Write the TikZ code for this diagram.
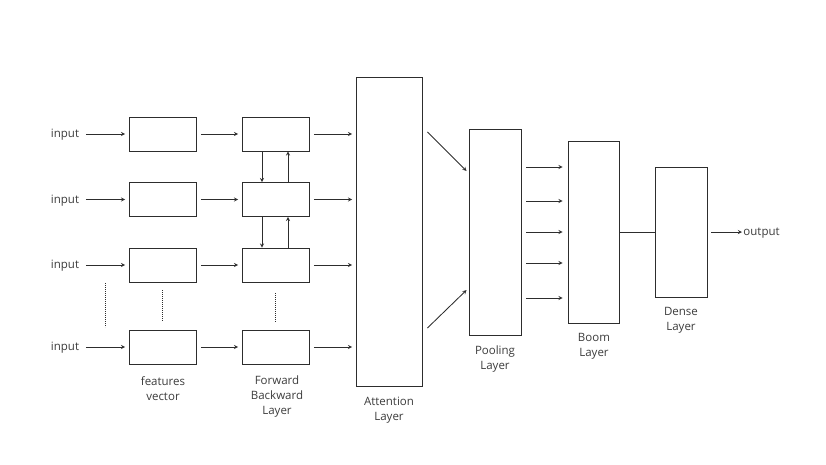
\documentclass[tikz,border=0pt]{standalone}
\usepackage{fontspec}
\setmainfont{Open Sans}
\usepackage{tikz}
\usetikzlibrary{calc,arrows,positioning}
\definecolor{LineGray}{RGB}{45,45,45}
\definecolor{TextGray}{RGB}{60,60,60}

\begin{document}
\begin{tikzpicture} [x=1pt, y=-1pt, >=stealth, LineGray, text=TextGray, line width=0.85pt,
	   every node/.style={font=\fontsize{11.5}{15}\selectfont},
	   layerbox/.style 2 args = {rectangle, draw=LineGray, fill=white, inner sep=0pt,
	                             minimum width=#1, minimum height=#2},
	   conn/.style = {->, shorten <=4.5pt, shorten >=3.5pt},
	   updown/.style = {->},
	   dots/.style = {line width=0.7pt, dash pattern=on 0.8pt off 1.2pt},
	   caption/.style = {align=center, inner sep=0pt}]
	\useasboundingbox (0,0) rectangle (826,464);

	%% Inputs
	\node [inner sep=2pt] (in1) at (65,135) {input};
	\node [inner sep=2pt] (in2) at (65,200.5) {input};
	\node [inner sep=2pt] (in3) at (65,266) {input};
	\node [inner sep=2pt] (in4) at (65,348) {input};

	%% Features vector
	\node [layerbox={67pt}{34pt}] (f1) at (162.5,134) {};
	\node [layerbox={67pt}{34pt}] (f2) at (162.5,199.5) {};
	\node [layerbox={67pt}{34pt}] (f3) at (162.5,265) {};
	\node [layerbox={67pt}{34pt}] (f4) at (162.5,347) {};
	\node [caption] (flbl) at (163,389) {features\\vector};

	%% Forward backward layer
	\node [layerbox={67pt}{34pt}] (fb1) at (275.5,134) {};
	\node [layerbox={67pt}{34pt}] (fb2) at (275.5,199.5) {};
	\node [layerbox={67pt}{34pt}] (fb3) at (275.5,265) {};
	\node [layerbox={67pt}{34pt}] (fb4) at (275.5,347) {};
	\node [caption] (fblbl) at (277,396.5) {Forward\\Backward\\Layer};

	%% Attention, pooling, boom, dense
	\node [layerbox={66pt}{309pt}] (att) at (389,231.5) {};
	\node [caption] (attlbl) at (389,410) {Attention\\Layer};
	\node [layerbox={52pt}{206pt}] (pool) at (495,232) {};
	\node [caption] (poollbl) at (495,359) {Pooling\\Layer};
	\node [layerbox={51pt}{182pt}] (boom) at (593.5,232) {};
	\node [caption] (boomlbl) at (594,346.5) {Boom\\Layer};
	\node [layerbox={52pt}{130pt}] (dense) at (681,232) {};
	\node [caption] (denselbl) at (681,320) {Dense\\Layer};
	\node [anchor=west, inner sep=1pt] (out) at (742,233) {output};

	%% Row paths
	\foreach \i in {1,...,4} {
		\draw[conn] (in\i.east |- f\i.west) -- (f\i);
		\draw[conn] (f\i) -- (fb\i);
		\draw[conn] (fb\i) -- (att.west |- fb\i.east);
	}

	%% Forward / backward links
	\foreach \a/\b in {fb1/fb2,fb2/fb3} {
		\draw[updown] ([xshift=-13.5pt]\a.south) -- ([xshift=-13.5pt]\b.north);
		\draw[updown] ([xshift=12.5pt]\b.north) -- ([xshift=12.5pt]\a.south);
	}

	%% Dotted continuation
	\coordinate (dtop) at (105,283);
	\coordinate (dbot) at (105,327);
	\draw[dots] (dtop) -- (dbot);
	\draw[dots, shorten <=8pt, shorten >=9pt] (f3.south) -- (f4.north);
	\draw[dots, shorten <=11pt, shorten >=8pt] (fb3.south) -- (fb4.north);

	%% Attention to pooling
	\draw[->] ([xshift=5pt,yshift=99.5pt]att.east) -- ([xshift=-2pt,yshift=61pt]pool.west);
	\draw[->] ([xshift=5pt,yshift=-96.5pt]att.east) -- ([xshift=-2pt,yshift=-58pt]pool.west);

	%% Pooling to boom
	\foreach \d in {65,31,0,-31,-66}
		\draw[->, shorten <=5pt, shorten >=5pt] ([yshift=\d pt]pool.east) -- ([yshift=\d pt]boom.west);

	%% Boom to dense to output
	\draw (boom) -- (dense);
	\draw[->, shorten <=4pt] (dense) -- (out.west |- dense.east);
\end{tikzpicture}
\end{document}
